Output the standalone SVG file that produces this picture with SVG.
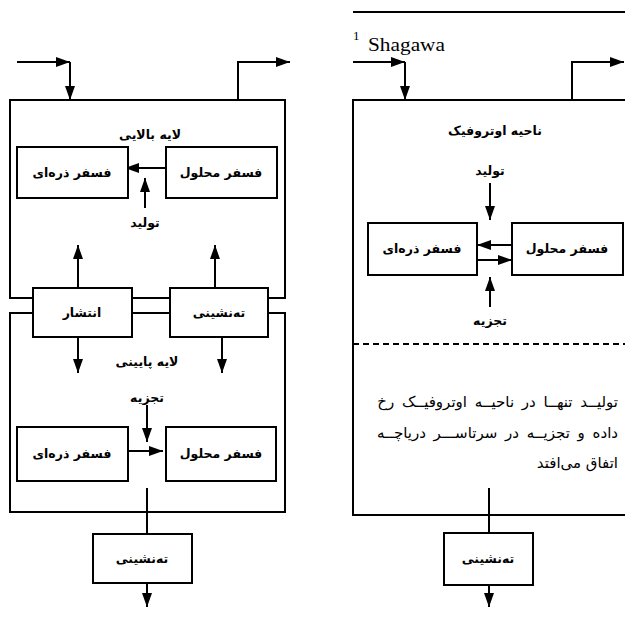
<svg xmlns="http://www.w3.org/2000/svg" width="625" height="617" viewBox="0 0 625 617">
<style>
.ln{fill:none;stroke:#000;stroke-width:2}
.bx{fill:#fff;stroke:#000;stroke-width:2}
.fa{font-family:"DejaVu Sans",sans-serif;font-weight:bold;font-size:12.5px;text-anchor:middle;fill:#000}
.pa{font-family:"DejaVu Sans",sans-serif;font-size:15px;text-anchor:end;fill:#000}
.lat{font-family:"Liberation Serif",serif;fill:#000}
</style>
<defs>
<marker id="ah" markerUnits="userSpaceOnUse" markerWidth="14" markerHeight="10" viewBox="0 0 14 10" refX="14" refY="5" orient="auto">
<path d="M0,0 L14,5 L0,10 Z" fill="#000"/>
</marker>
</defs>
<rect width="625" height="617" fill="#fff"/>

<g id="frames">
<path class="ln" d="M33,298 H10 V100 H285 V298 H268 M132,298 H170"/>
<path class="ln" d="M33,313 H10 V512 H285 V313 H268 M132,313 H170"/>
<path class="ln" d="M353,12 H625" stroke-width="2.5"/>
<path class="ln" d="M630,100 H353 V515 H630"/>
<path class="ln" d="M353,344 H625" stroke-dasharray="6,4"/>
</g>

<g id="connectors">
<path class="ln" d="M17,62 H70" marker-end="url(#ah)"/>
<path class="ln" d="M70,62 V100" marker-end="url(#ah)"/>
<path class="ln" d="M238,100 V62 H290" marker-end="url(#ah)"/>
<path class="ln" d="M166,168 H125" marker-end="url(#ah)"/>
<path class="ln" d="M145,208 V178" marker-end="url(#ah)"/>
<path class="ln" d="M78,288 V245" marker-end="url(#ah)"/>
<path class="ln" d="M215,288 V245" marker-end="url(#ah)"/>
<path class="ln" d="M78,337 V373" marker-end="url(#ah)"/>
<path class="ln" d="M222,337 V373" marker-end="url(#ah)"/>
<path class="ln" d="M147,405 V442" marker-end="url(#ah)"/>
<path class="ln" d="M124,451 H163" marker-end="url(#ah)"/>
<path class="ln" d="M147,488 V534"/>
<path class="ln" d="M147,583 V607" marker-end="url(#ah)"/>

<path class="ln" d="M353,62 H405" marker-end="url(#ah)"/>
<path class="ln" d="M405,62 V100" marker-end="url(#ah)"/>
<path class="ln" d="M572,100 V62 H624" marker-end="url(#ah)"/>
<path class="ln" d="M490,183 V220" marker-end="url(#ah)"/>
<path class="ln" d="M512,245 H477" marker-end="url(#ah)"/>
<path class="ln" d="M473,260 H512" marker-end="url(#ah)"/>
<path class="ln" d="M490,307 V277" marker-end="url(#ah)"/>
<path class="ln" d="M489,488 V533"/>
<path class="ln" d="M489,585 V607" marker-end="url(#ah)"/>
</g>

<g id="labels">
<text class="fa" x="150" y="139" font-size="15">لایه بالایی</text>
<text class="fa" x="145" y="227" font-size="13.5">تولید</text>
<text class="fa" x="147" y="366" font-size="15">لایه پایینی</text>
<text class="fa" x="147" y="402" font-size="13.5">تجزیه</text>
<text class="fa" x="495" y="135" font-size="15">ناحیه اوتروفیک</text>
<text class="fa" x="490" y="175" font-size="13.5">تولید</text>
<text class="fa" x="490" y="325" font-size="13.5">تجزیه</text>
<text class="lat" x="353" y="40" font-size="13">1</text>
<text class="lat" x="368" y="51" font-size="19" textLength="77" lengthAdjust="spacingAndGlyphs">Shagawa</text>
<text class="pa" x="618" y="407" style="word-spacing:3px">تولیــد تنهــا در ناحیــه اوتروفیــک رخ</text>
<text class="pa" x="618" y="438" style="word-spacing:3px">داده و تجزیــه در سرتاســـر دریاچــه</text>
<text class="pa" x="618" y="468">اتفاق می‌افتد</text>
</g>

<g id="n-upper-particulate"><rect class="bx" x="17" y="147" width="111" height="51"/><text class="fa" x="72" y="177">فسفر ذره‌ای</text></g>
<g id="n-upper-dissolved"><rect class="bx" x="166" y="147" width="111" height="51"/><text class="fa" x="221" y="177">فسفر محلول</text></g>
<g id="n-diffusion"><rect class="bx" x="33" y="288" width="99" height="49"/><text class="fa" x="82" y="317">انتشار</text></g>
<g id="n-settling-mid"><rect class="bx" x="170" y="288" width="98" height="49"/><text class="fa" x="219" y="317">ته‌نشینی</text></g>
<g id="n-lower-particulate"><rect class="bx" x="17" y="427" width="111" height="54"/><text class="fa" x="72" y="458">فسفر ذره‌ای</text></g>
<g id="n-lower-dissolved"><rect class="bx" x="166" y="427" width="110" height="54"/><text class="fa" x="221" y="458">فسفر محلول</text></g>
<g id="n-settling-left"><rect class="bx" x="93" y="534" width="99" height="49"/><text class="fa" x="142" y="563">ته‌نشینی</text></g>
<g id="n-right-particulate"><rect class="bx" x="368" y="223" width="109" height="52"/><text class="fa" x="422" y="253">فسفر ذره‌ای</text></g>
<g id="n-right-dissolved"><rect class="bx" x="512" y="223" width="111" height="52"/><text class="fa" x="567" y="253">فسفر محلول</text></g>
<g id="n-settling-right"><rect class="bx" x="444" y="533" width="89" height="52"/><text class="fa" x="488" y="563">ته‌نشینی</text></g>
</svg>
